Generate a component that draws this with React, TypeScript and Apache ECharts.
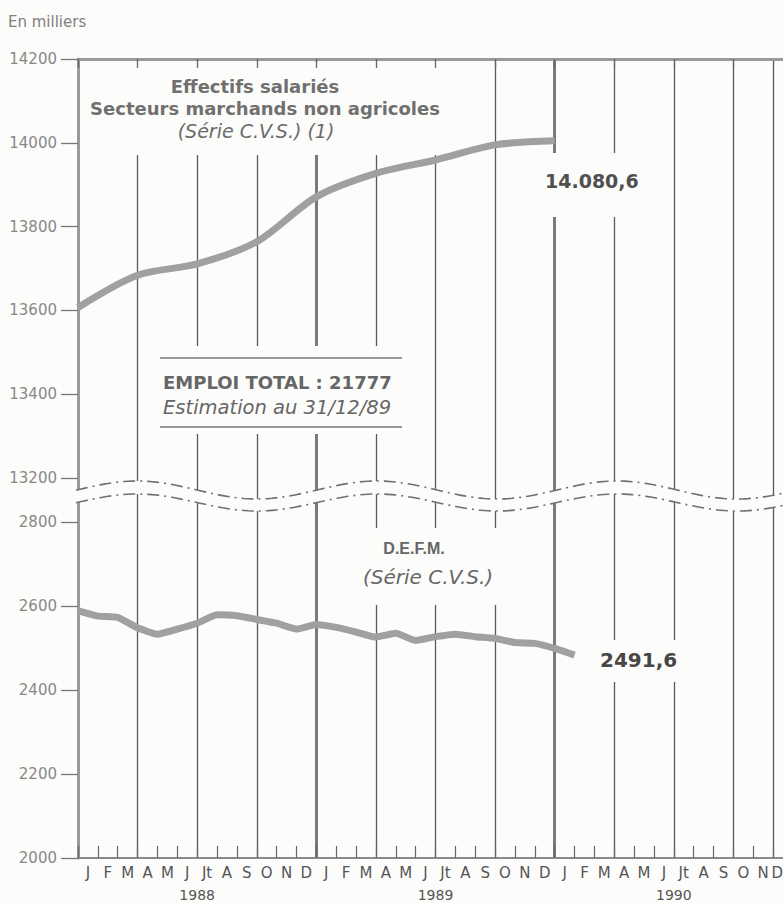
import React, { useEffect, useRef } from 'react';
import * as echarts from 'echarts';

// ---- data ----
const monthLabels = [
  'J', 'F', 'M', 'A', 'M', 'J', 'Jt', 'A', 'S', 'O', 'N', 'D',
  'J', 'F', 'M', 'A', 'M', 'J', 'Jt', 'A', 'S', 'O', 'N', 'D',
  'J', 'F', 'M', 'A', 'M', 'J', 'Jt', 'A', 'S', 'O', 'N', 'D',
];
const yearLabels = ['1988', '1989', '1990'];

// Effectifs salariés (quarterly, month index from Jan 1988)
const salariesMonths = [0, 3, 6, 9, 12, 15, 18, 21, 24];
const salariesValues = [13607, 13684, 13711, 13764, 13871, 13927, 13959, 13995, 14005];

// D.E.F.M. (monthly, month index from Jan 1988)
const defmMonths = [
  0, 1, 2, 3, 4, 5, 6, 7, 8, 9, 10, 11, 12,
  13, 14, 15, 16, 17, 18, 19, 20, 21, 22, 23, 24, 25,
];
const defmValues = [
  2589, 2576, 2573, 2548, 2533, 2545, 2559, 2579, 2577, 2568, 2559, 2545, 2556,
  2549, 2538, 2526, 2535, 2518, 2527, 2533, 2527, 2523, 2513, 2511, 2499, 2483,
];

const upperMin = 13200;
const upperMax = 14200;
const lowerMin = 2000;
const lowerMax = 2800;
const tickStep = 200;

const FONT = '"DejaVu Sans", sans-serif';
const BG = '#fcfcfa';

function wave(center: number, amp: number, x0: number, x1: number): number[][] {
  const pts: number[][] = [];
  for (let x = x0; x <= x1; x += 4) {
    pts.push([x, center - amp * Math.cos((2 * Math.PI * (x - 137)) / 240)]);
  }
  return pts;
}

export default function App() {
  const ref = useRef<HTMLDivElement>(null);

  useEffect(() => {
    const chart = echarts.init(ref.current!, null, { renderer: 'svg' });

    const upperWave = wave(490, 9, 76, 800);
    const lowerWave = wave(502.5, 8.5, 76, 800);
    const band = upperWave.concat(lowerWave.slice().reverse());

    const rect = (x: number, y: number, w: number, h: number) => ({
      type: 'rect',
      z: 1,
      shape: { x, y, width: w, height: h },
      style: { fill: BG },
      silent: true,
    });

    const text = (
      t: string,
      x: number,
      y: number,
      opts: { size: number; weight?: string; style?: string; color: string; align?: string; family?: string },
    ) => ({
      type: 'text',
      z: 10,
      x,
      y,
      style: {
        text: t,
        fill: opts.color,
        fontSize: opts.size,
        fontWeight: opts.weight || 'normal',
        fontStyle: opts.style || 'normal',
        fontFamily: opts.family || FONT,
        align: opts.align || 'left',
        verticalAlign: 'middle',
      },
      silent: true,
    });

    const numLabel = { margin: 21, fontSize: 15, color: '#888', fontFamily: FONT, formatter: (v: number) => String(v) };

    const option: any = {
      animation: false,
      backgroundColor: BG,
      grid: [
        { left: 78, top: 59, width: 715, height: 419 },
        { left: 78, top: 522, width: 715, height: 336 },
        { left: 78, top: 59, width: 715, height: 799 },
      ],
      xAxis: [
        {
          gridIndex: 2,
          type: 'category',
          data: monthLabels,
          boundaryGap: true,
          position: 'bottom',
          z: 0,
          axisLine: { show: true, lineStyle: { color: '#8a8a8a', width: 2 } },
          axisTick: { show: true, inside: true, length: 12, interval: 0, lineStyle: { color: '#666', width: 1.2 } },
          axisLabel: { interval: 0, margin: 7, fontSize: 15, color: '#555', fontFamily: FONT, alignMaxLabel: 'right' },
          splitLine: { show: true, interval: 2, lineStyle: { color: '#5a5a5a', width: 1.3 } },
        },
        {
          gridIndex: 2,
          type: 'category',
          data: monthLabels,
          boundaryGap: true,
          position: 'top',
          z: 0,
          axisLine: { show: true, lineStyle: { color: '#9a9a9a', width: 3 } },
          axisTick: { show: false },
          axisLabel: { show: false },
          splitLine: { show: true, interval: 11, lineStyle: { color: '#7a7a7a', width: 3 } },
        },
        {
          gridIndex: 0,
          type: 'category',
          data: monthLabels,
          boundaryGap: true,
          position: 'top',
          z: 5,
          axisLine: { show: false },
          axisTick: { show: true, inside: true, length: 9, interval: 2, lineStyle: { color: '#666', width: 1.3 } },
          axisLabel: { show: false },
          splitLine: { show: false },
        },
        {
          gridIndex: 2,
          type: 'category',
          data: yearLabels,
          position: 'bottom',
          axisLine: { show: false },
          axisTick: { show: false },
          axisLabel: { interval: 0, margin: 30, fontSize: 14, color: '#555', fontFamily: FONT },
          splitLine: { show: false },
        },
        { gridIndex: 0, type: 'value', min: 0, max: 36, show: false },
        { gridIndex: 1, type: 'value', min: 0, max: 36, show: false },
      ],
      yAxis: [
        {
          gridIndex: 0,
          type: 'value',
          min: upperMin,
          max: upperMax,
          interval: tickStep,
          axisLine: { show: false },
          axisTick: { show: true, length: 17, lineStyle: { color: '#777', width: 1.3 } },
          axisLabel: numLabel,
          splitLine: { show: false },
        },
        {
          gridIndex: 1,
          type: 'value',
          min: lowerMin,
          max: lowerMax,
          interval: tickStep,
          axisLine: { show: false },
          axisTick: { show: true, length: 17, lineStyle: { color: '#777', width: 1.3 } },
          axisLabel: numLabel,
          splitLine: { show: false },
        },
        {
          gridIndex: 2,
          type: 'value',
          min: 0,
          max: 1,
          axisLine: { show: true, lineStyle: { color: '#9a9a9a', width: 3 } },
          axisTick: { show: false },
          axisLabel: { show: false },
          splitLine: { show: false },
        },
      ],
      series: [
        {
          type: 'line',
          xAxisIndex: 4,
          yAxisIndex: 0,
          data: salariesMonths.map((m, i) => [m, salariesValues[i]]),
          symbol: 'none',
          smooth: 0.3,
          z: 2,
          lineStyle: { color: '#a0a0a0', width: 7, cap: 'butt' },
        },
        {
          type: 'line',
          xAxisIndex: 5,
          yAxisIndex: 1,
          data: defmMonths.map((m, i) => [m, defmValues[i]]),
          symbol: 'none',
          smooth: 0.15,
          z: 2,
          lineStyle: { color: '#a0a0a0', width: 7, cap: 'butt' },
        },
      ],
      graphic: [
        // axis break band
        { type: 'polygon', z: 1, shape: { points: band }, style: { fill: BG }, silent: true },
        {
          type: 'polyline', z: 3, shape: { points: upperWave },
          style: { stroke: '#707070', lineWidth: 1.6, fill: 'none', lineDash: [12, 5, 2, 5] }, silent: true,
        },
        {
          type: 'polyline', z: 3, shape: { points: lowerWave },
          style: { stroke: '#707070', lineWidth: 1.6, fill: 'none', lineDash: [12, 5, 2, 5] }, silent: true,
        },
        // white areas behind texts
        rect(80, 61.5, 390, 93.5),
        rect(158, 346, 246, 88),
        rect(345, 528, 160, 77),
        rect(537, 153, 118, 64),
        rect(592, 640, 95, 42),
        // EMPLOI box rules
        { type: 'line', z: 3, shape: { x1: 160, y1: 358, x2: 402, y2: 358 }, style: { stroke: '#777', lineWidth: 1.5 }, silent: true },
        { type: 'line', z: 3, shape: { x1: 160, y1: 427, x2: 402, y2: 427 }, style: { stroke: '#777', lineWidth: 1.5 }, silent: true },
        // texts
        text('En milliers', 8, 22, { size: 15, color: '#808080' }),
        text('Effectifs salariés', 255, 86, { size: 18, weight: 'bold', color: '#707070', align: 'center' }),
        text('Secteurs marchands non agricoles', 265, 108, { size: 18, weight: 'bold', color: '#707070', align: 'center' }),
        text('(Série C.V.S.) (1)', 256, 131, { size: 19, style: 'italic', color: '#6a6a6a', align: 'center' }),
        text('14.080,6', 545, 181, { size: 19, weight: 'bold', color: '#505050' }),
        text('EMPLOI TOTAL : 21777', 163, 382, { size: 18, weight: 'bold', color: '#666' }),
        text('Estimation au 31/12/89', 163, 407, { size: 19.5, style: 'italic', color: '#666' }),
        text('D.E.F.M.', 414, 548, { size: 16, weight: 'bold', color: '#666', align: 'center', family: '"Liberation Sans", Arial, sans-serif' }),
        text('(Série C.V.S.)', 428, 577, { size: 20, style: 'italic', color: '#666', align: 'center' }),
        text('2491,6', 600, 660, { size: 20, weight: 'bold', color: '#474747' }),
      ],
    };

    chart.setOption(option);
    return () => chart.dispose();
  }, []);

  return (
    <div style={{ position: 'fixed', left: 0, top: 0, width: 783, height: 903, overflow: 'hidden' }}>
      <div ref={ref} style={{ width: 810, height: 903 }} />
    </div>
  );
}
